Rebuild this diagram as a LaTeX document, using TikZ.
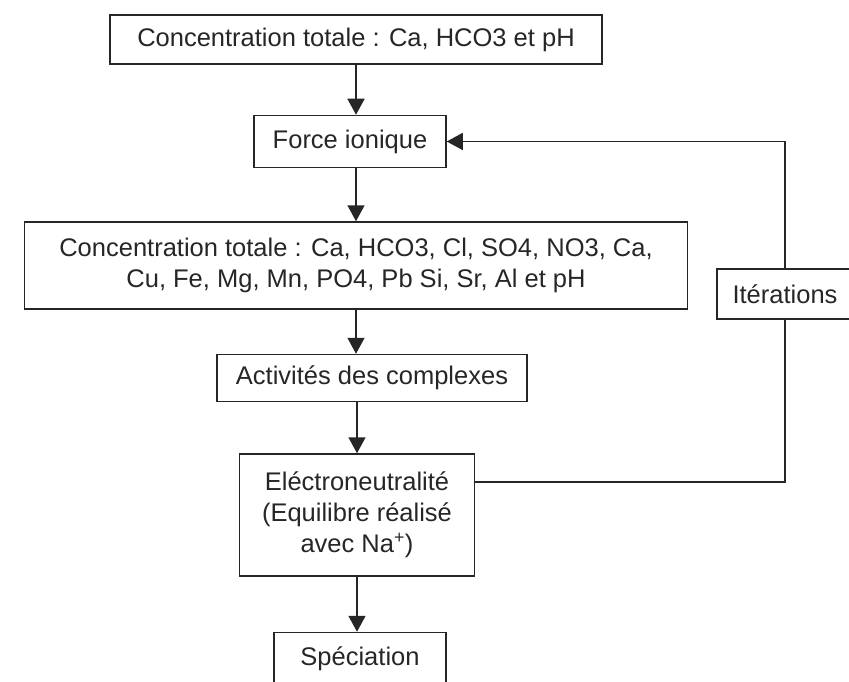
\documentclass[tikz,border=0pt]{standalone}
\usepackage{fontspec}
\setmainfont{Liberation Sans}
\usetikzlibrary{arrows.meta,positioning}
\definecolor{ink}{HTML}{262626}

\begin{document}
\begin{tikzpicture}[x=1pt,y=-1pt,color=ink,line width=1.6pt,>={Triangle[length=16pt,width=17pt]},
  every node/.style={font=\fontsize{25.5}{31}\selectfont}]
\tikzstyle{box}=[draw,line width=1.5pt,align=center,inner sep=0pt]
\useasboundingbox (0,0) rectangle (849,682);
\node[box,minimum width=492pt,minimum height=49pt] (tot) at (356,39.5) {Concentration totale : Ca, HCO3 et pH};
\node[box,minimum width=192pt,minimum height=52pt,below=50pt of tot,xshift=-6pt] (force) {Force ionique};
\node[box,minimum width=663pt,minimum height=87pt,below=53pt of force,xshift=6pt] (conc) {Concentration totale : Ca, HCO3, Cl, SO4, NO3, Ca,\\Cu, Fe, Mg, Mn, PO4, Pb Si, Sr, Al et pH};
\node[box,minimum width=310pt,minimum height=47pt,below=44pt of conc,xshift=16pt] (act) {Activités des complexes};
\node[box,minimum width=235pt,minimum height=122pt,below=51pt of act,xshift=-15pt] (elec) {Eléctroneutralité\\(Equilibre réalisé\\avec Na\textsuperscript{+})};
\node[box,minimum width=172pt,minimum height=52pt,below=55pt of elec,xshift=3pt] (spec) {Spéciation};
\node[box,minimum width=136pt,minimum height=50pt] (iter) at (785,294) {Itérations};
\draw[->] (tot.south) -- (tot.south |- force.north);
\draw[->] (conc.north |- force.south) -- (conc.north);
\draw[->] (conc.south) -- (conc.south |- act.north);
\draw[->] (elec.north |- act.south) -- (elec.north);
\draw[->] (elec.south) -- (elec.south |- spec.north);
\draw ([yshift=33pt]elec.east) -| (iter.south);
\draw[->] (iter.north) |- (force.east);
\end{tikzpicture}
\end{document}
